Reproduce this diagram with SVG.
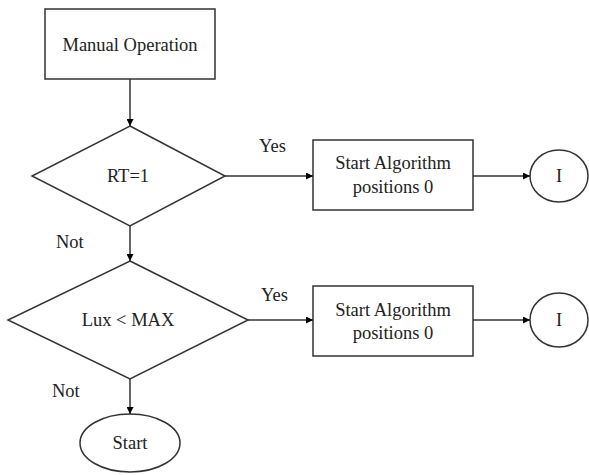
<svg xmlns="http://www.w3.org/2000/svg" width="589" height="475" viewBox="0 0 589 475">
<defs>
<marker id="arr" viewBox="0 0 10 10" refX="10" refY="5" markerWidth="9" markerHeight="7" markerUnits="userSpaceOnUse" orient="auto">
<path d="M0,0 L10,5 L0,10 z" fill="#000"/>
</marker>
</defs>
<style>
.s{fill:#fff;stroke:#333;stroke-width:1.5}
.c{fill:none;stroke:#333;stroke-width:1.5}
</style>
<rect width="589" height="475" fill="#fff"/>
<g id="manual">
<rect class="s" x="45" y="9" width="170" height="70"/>
<text x="130" y="51" font-family="Liberation Serif" font-size="18.5" text-anchor="middle" fill="#222">Manual Operation</text>
</g>
<g id="rt">
<polygon class="s" points="130,126 225,176 130,226 32,176"/>
<text x="128" y="182" font-family="Liberation Serif" font-size="18.5" text-anchor="middle" fill="#222">RT=1</text>
</g>
<g id="alg1">
<rect class="s" x="313" y="140" width="160" height="70"/>
<text x="393" y="169" font-family="Liberation Serif" font-size="18.5" text-anchor="middle" fill="#222">Start Algorithm</text>
<text x="393" y="193" font-family="Liberation Serif" font-size="18.5" text-anchor="middle" fill="#222">positions 0</text>
</g>
<g id="i1">
<ellipse class="s" cx="559" cy="176" rx="29" ry="26"/>
<text x="559" y="182" font-family="Liberation Serif" font-size="18.5" text-anchor="middle" fill="#222">I</text>
</g>
<g id="lux">
<polygon class="s" points="130,261 248,320 130,379 8,320"/>
<text x="128" y="326" font-family="Liberation Serif" font-size="18.5" text-anchor="middle" fill="#222">Lux &lt; MAX</text>
</g>
<g id="alg2">
<rect class="s" x="313" y="286" width="160" height="70"/>
<text x="393" y="316" font-family="Liberation Serif" font-size="18.5" text-anchor="middle" fill="#222">Start Algorithm</text>
<text x="393" y="339" font-family="Liberation Serif" font-size="18.5" text-anchor="middle" fill="#222">positions 0</text>
</g>
<g id="i2">
<ellipse class="s" cx="559" cy="320" rx="29" ry="27"/>
<text x="559" y="326" font-family="Liberation Serif" font-size="18.5" text-anchor="middle" fill="#222">I</text>
</g>
<g id="start">
<ellipse class="s" cx="130" cy="443" rx="50" ry="29"/>
<text x="130" y="449" font-family="Liberation Serif" font-size="18.5" text-anchor="middle" fill="#222">Start</text>
</g>
<g id="connectors">
<line class="c" x1="130" y1="79" x2="130" y2="126" marker-end="url(#arr)"/>
<line class="c" x1="225" y1="176" x2="313" y2="176" marker-end="url(#arr)"/>
<line class="c" x1="473" y1="176" x2="530" y2="176" marker-end="url(#arr)"/>
<line class="c" x1="130" y1="226" x2="130" y2="261" marker-end="url(#arr)"/>
<line class="c" x1="248" y1="320" x2="313" y2="320" marker-end="url(#arr)"/>
<line class="c" x1="473" y1="320" x2="530" y2="320" marker-end="url(#arr)"/>
<line class="c" x1="130" y1="379" x2="130" y2="414" marker-end="url(#arr)"/>
<text x="259" y="152" font-family="Liberation Serif" font-size="18.5" fill="#222">Yes</text>
<text x="56" y="248" font-family="Liberation Serif" font-size="18.5" fill="#222">Not</text>
<text x="261" y="301" font-family="Liberation Serif" font-size="18.5" fill="#222">Yes</text>
<text x="52" y="397" font-family="Liberation Serif" font-size="18.5" fill="#222">Not</text>
</g>
</svg>
